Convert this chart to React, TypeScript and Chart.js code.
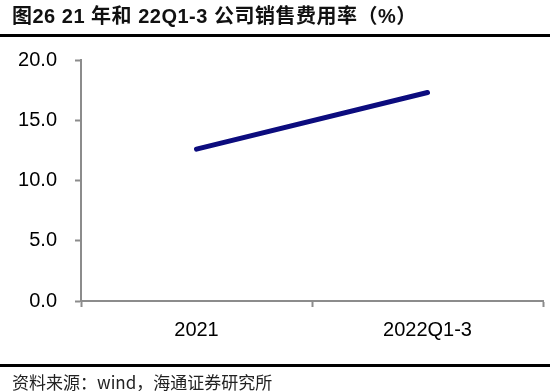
import React, { useEffect, useRef } from "react";
import { Chart, registerables } from "chart.js";

Chart.register(...registerables);

const categories = ["2021", "2022Q1-3"];
const salesExpenseRate = [12.6, 17.3];
const yTicks = [0, 5, 10, 15, 20];
const titleText = "图26 21 年和 22Q1-3 公司销售费用率（%）";
const sourceText = "资料来源：wind，海通证券研究所";

export default function App() {
  const ref = useRef<HTMLCanvasElement | null>(null);
  useEffect(() => {
    if (!ref.current) return;
    const axisColor = "#8c8c8c";
    const chart = new Chart(ref.current, {
      type: "line",
      data: {
        labels: categories,
        datasets: [
          {
            data: salesExpenseRate,
            borderColor: "#0c0c7e",
            borderWidth: 5,
            pointRadius: 0,
            borderCapStyle: "round",
            tension: 0,
          },
        ],
      },
      options: {
        animation: false,
        responsive: false,
        maintainAspectRatio: false,
        layout: { padding: { left: 0, right: 7, top: 60, bottom: 0 } },
        plugins: { legend: { display: false }, tooltip: { enabled: false } },
        scales: {
          x: {
            offset: true,
            grid: {
              offset: true,
              drawOnChartArea: false,
              drawTicks: true,
              tickLength: 6,
              tickWidth: 2,
              tickColor: axisColor,
            },
            border: { color: axisColor, width: 2 },
            ticks: {
              color: "#000",
              padding: 11,
              font: { family: "'Liberation Sans', Arial, sans-serif", size: 20 },
              maxRotation: 0,
            },
            afterFit: (s: any) => {
              s.height = 90;
            },
          },
          y: {
            min: 0,
            max: 20,
            afterBuildTicks: (s: any) => {
              s.ticks = yTicks.map((v) => ({ value: v }));
            },
            grid: {
              drawOnChartArea: false,
              drawTicks: true,
              tickLength: 6,
              tickWidth: 2,
              tickColor: axisColor,
            },
            border: { color: axisColor, width: 2 },
            ticks: {
              color: "#000",
              padding: 18,
              callback: (v: any) => Number(v).toFixed(1),
              font: { family: "'Liberation Sans', Arial, sans-serif", size: 20 },
            },
            afterFit: (s: any) => {
              s.width = 81;
            },
          },
        },
      },
    });
    return () => chart.destroy();
  }, []);

  return (
    <div
      style={{
        position: "absolute",
        left: 0,
        top: 0,
        width: 550,
        height: 391,
        background: "#fff",
        overflow: "hidden",
      }}
    >
      <canvas
        ref={ref}
        width={550}
        height={391}
        style={{ position: "absolute", left: 0, top: 0, width: 550, height: 391 }}
      />
      <div
        style={{
          position: "absolute",
          left: 12,
          top: 3,
          fontFamily: "'Liberation Sans', 'Noto Sans CJK SC', sans-serif",
          fontWeight: "bold",
          fontSize: 20,
          letterSpacing: "0.5px",
          color: "#111",
          whiteSpace: "nowrap",
          lineHeight: "26px",
        }}
      >
        {titleText}
      </div>
      <div style={{ position: "absolute", left: 0, top: 34, width: 550, height: 3, background: "#000" }} />
      <div style={{ position: "absolute", left: 0, top: 364, width: 550, height: 3, background: "#000" }} />
      <div
        style={{
          position: "absolute",
          left: 12,
          top: 369,
          fontFamily: "'Noto Sans CJK SC', sans-serif",
          fontSize: 17,
          color: "#222",
          whiteSpace: "nowrap",
          lineHeight: "26px",
        }}
      >
        {sourceText}
      </div>
    </div>
  );
}
